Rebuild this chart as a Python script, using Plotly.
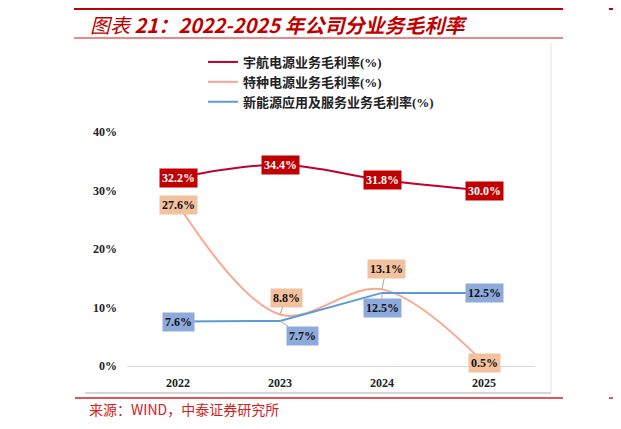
import plotly.graph_objects as go

years = ["2022", "2023", "2024", "2025"]
yuhang = [32.2, 34.4, 31.8, 30.0]
tezhong = [27.6, 8.8, 13.1, 0.5]
xinneng = [7.6, 7.7, 12.5, 12.5]
names = ["宇航电源业务毛利率(%)", "特种电源业务毛利率(%)", "新能源应用及服务业务毛利率(%)"]
y_ticks = [0, 10, 20, 30, 40]

O = 8  # page body margin offset
W, H = 621 - O, 429 - O
L, R, T, B = 127, 535, 132, 366  # plot area pixels (page coords)


def px(x):
    return (x - L) / (R - L)


def py(y):
    return (B - y) / (B - T)


SERIF = "Liberation Serif, Times New Roman, Noto Sans CJK SC"
fig = go.Figure()

line_cols = ["#C0002F", "#F8A890", "#5B9BD5"]
shapes_ = ["spline", "spline", "linear"]
series = [yuhang, tezhong, xinneng]
for n, s, c, sh in zip(names, series, line_cols, shapes_):
    fig.add_trace(go.Scatter(x=years, y=s, name=n, mode="lines",
                             line=dict(color=c, width=2, shape=sh, smoothing=1.0)))

box_cols = ["#C00000", "#F4C19F", "#8EA9DB"]
txt_cols = ["white", "#111111", "#111111"]
# label offsets (ax, ay) in px; None = centered on point
offsets = [
    [None, None, None, None],
    [None, (6, -17), (4, -20), None],
    [None, (22, 15), (0, 15), None],
]
for s, bc, tc, offs in zip(series, box_cols, txt_cols, offsets):
    for i, (v, o) in enumerate(zip(s, offs)):
        kw = dict(x=i, y=v, text=f"{v:.1f}%", bgcolor=bc, borderpad=2,
                  font=dict(family=SERIF, size=12, color=tc, weight="bold"))
        if o is None:
            fig.add_annotation(showarrow=False, **kw)
        else:
            fig.add_annotation(showarrow=True, ax=o[0], ay=o[1], arrowhead=0,
                               arrowwidth=1, arrowcolor="#A6A6A6", standoff=0, **kw)

# decorative frame lines
shapes = [
    dict(type="line", x0=px(74), x1=px(563), y0=py(8.5), y1=py(8.5),
         line=dict(color="#C00000", width=3)),
    dict(type="line", x0=px(609), x1=px(630), y0=py(8.5), y1=py(8.5),
         line=dict(color="#C00000", width=3)),
    dict(type="line", x0=px(74), x1=px(563), y0=py(38), y1=py(38),
         line=dict(color="#E06060", width=1.5)),
    dict(type="line", x0=px(551), x1=px(551), y0=py(43), y1=py(393),
         line=dict(color="#E3E3E3", width=1)),
    dict(type="line", x0=px(85), x1=px(551), y0=py(393), y1=py(393),
         line=dict(color="#C8C8C8", width=1.5)),
    dict(type="line", x0=px(75), x1=px(563), y0=py(398), y1=py(398),
         line=dict(color="#D42020", width=1.5)),
    dict(type="line", x0=px(609), x1=px(630), y0=py(398), y1=py(398),
         line=dict(color="#D42020", width=1.5)),
]
for sh in shapes:
    sh.update(xref="paper", yref="paper", layer="below")
    fig.add_shape(**sh)

fig.add_annotation(xref="paper", yref="paper", x=px(88), y=py(24.5), xanchor="left",
                   yanchor="middle", showarrow=False,
                   text="<i>图表</i><b><i> 21：2022-2025 年公司分业务毛利率</i></b>",
                   font=dict(family="Noto Sans CJK SC, Liberation Sans", size=20, color="#C00000"))
fig.add_annotation(xref="paper", yref="paper", x=px(87), y=py(409), xanchor="left",
                   yanchor="middle", showarrow=False,
                   text="来源：WIND，中泰证券研究所",
                   font=dict(family="Noto Sans CJK SC", size=14, color="#D42020"))

fig.update_layout(
    width=W, height=H,
    margin=dict(l=L - O, r=621 - R, t=T - O, b=429 - B),
    paper_bgcolor="white", plot_bgcolor="white",
    showlegend=True,
    legend=dict(x=px(203), y=py(47), xanchor="left", yanchor="top",
                bgcolor="rgba(0,0,0,0)", itemwidth=30, tracegroupgap=0,
                font=dict(family=SERIF, size=13, color="#222222", weight="bold")),
    xaxis=dict(type="category", range=[-0.5, 3.5], showgrid=False, showline=True,
               linecolor="#D9D9D9", linewidth=1, ticks="", ticklabelstandoff=6,
               tickfont=dict(family=SERIF, size=12, color="#222222", weight="bold")),
    yaxis=dict(range=[0, 40], tickvals=y_ticks, ticktext=[f"{v}%" for v in y_ticks],
               showgrid=False, zeroline=False, showline=False, ticks="",
               ticklabelstandoff=9,
               tickfont=dict(family=SERIF, size=12, color="#222222", weight="bold")),
)

fig.write_html("out.html")
